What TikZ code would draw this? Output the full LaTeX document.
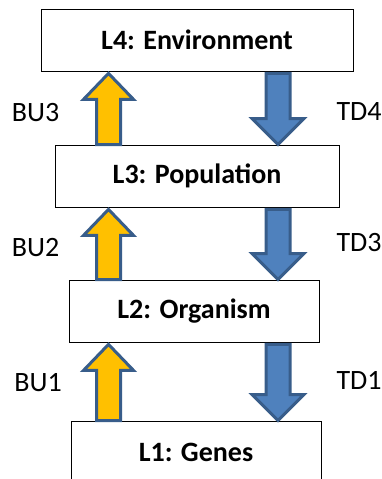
\documentclass[tikz,border=0pt]{standalone}
\usepackage{fontspec}
\setmainfont{Carlito}
\usetikzlibrary{calc}

\definecolor{buyellow}{HTML}{FFC000}
\definecolor{tdblue}{HTML}{4F81BD}
\definecolor{arrline}{HTML}{385D8A}

% block arrows: #1 = start point, #2 = point on the target box
\newcommand{\buarrow}[2]{%
  \draw[buarr] let \p1=(#1), \p2=(#2) in
    (\x1-12pt,\y1) -- (\x1-12pt,\y2-28pt) -- (\x1-25pt,\y2-28pt) -- (\x1,\y2-2pt)
    -- (\x1+25pt,\y2-28pt) -- (\x1+12pt,\y2-28pt) -- (\x1+12pt,\y1) -- cycle;}
\newcommand{\tdarrow}[2]{%
  \draw[tdarr] let \p1=(#1), \p2=(#2) in
    (\x1-12pt,\y1-2pt) -- (\x1-12pt,\y2+26pt) -- (\x1-26pt,\y2+26pt) -- (\x1,\y2)
    -- (\x1+26pt,\y2+26pt) -- (\x1+12pt,\y2+26pt) -- (\x1+12pt,\y1-2pt) -- cycle;}

\begin{document}
\begin{tikzpicture}[x=1pt,y=-1pt]
\tikzset{every node/.style={font=\fontsize{28}{32}\selectfont},
  level/.style={draw,line width=0.8pt,minimum height=62pt,inner sep=0pt,
    font=\fontsize{28}{32}\selectfont\bfseries},
  buarr/.style={draw=arrline,fill=buyellow,line width=3pt},
  tdarr/.style={draw=arrline,fill=tdblue,line width=3pt}}
\useasboundingbox (0,0) rectangle (381,479);

% Levels
\node[level,minimum width=312pt] (L4) at (197,40) {L4: Environment};
\node[level,minimum width=284pt] (L3) at (197,176) {L3: Population};
\node[level,minimum width=250pt] (L2) at (194,311) {L2: Organism};
\node[level,minimum width=250pt] (L1) at (196,452) {L1: Genes};

% Arrow columns
\coordinate (bu) at (108.5,0);
\coordinate (td) at (278,0);

% Bottom-up arrows
\buarrow{L3.north -| bu}{L4.south -| bu}
\buarrow{L2.north -| bu}{L3.south -| bu}
\buarrow{L1.north -| bu}{L2.south -| bu}

% Top-down arrows
\tdarrow{L4.south -| td}{L3.north -| td}
\tdarrow{L3.south -| td}{L2.north -| td}
\tdarrow{L2.south -| td}{L1.north -| td}

% Labels
\node (bu3) at (35.5,113) {BU3};
\node (bu2) at (35.5,248) {BU2};
\node (bu1) at (38,383) {BU1};
\node[anchor=west] (td4) at (333,112) {TD4};
\node[anchor=west] (td3) at (333,243) {TD3};
\node[anchor=west] (td1) at (333,380) {TD1};

\end{tikzpicture}
\end{document}
